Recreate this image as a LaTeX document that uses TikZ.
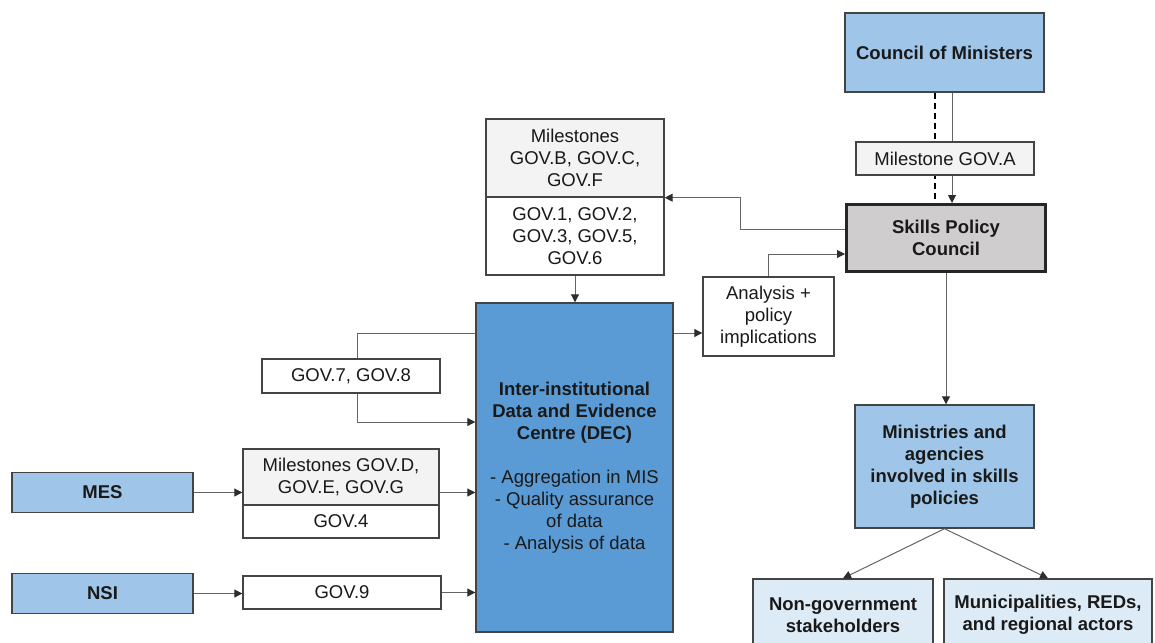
\documentclass[tikz,border=0pt]{standalone}
\usepackage{fontspec}
\setmainfont{Liberation Sans}
\usetikzlibrary{arrows.meta,backgrounds}

\definecolor{midblue}{RGB}{159,197,232}
\definecolor{decblue}{RGB}{91,155,213}
\definecolor{paleblue}{RGB}{221,235,247}
\definecolor{palegray}{RGB}{243,243,243}
\definecolor{spcgray}{RGB}{207,205,205}
\definecolor{edge}{RGB}{68,68,68}
\definecolor{wire}{RGB}{100,100,100}
\definecolor{tipcol}{RGB}{45,45,45}

\tikzset{
  box/.style={draw=edge, line width=1.4pt, rectangle, inner sep=2pt, align=center,
    text=black!90, font=\fontsize{18.5}{22}\selectfont},
  boldbox/.style={box, font=\fontsize{18.5}{22}\selectfont\bfseries},
  wireline/.style={draw=wire, line width=1pt},
  arr/.style={wireline, -{Triangle[length=8pt,width=8pt,color=tipcol]}},
  dashline/.style={draw=black, line width=2pt, dash pattern=on 6pt off 4pt}
}

\begin{document}
\begin{tikzpicture}[x=1pt,y=-1pt]
\useasboundingbox (0,0) rectangle (1155,642);
\clip (0,0) rectangle (1155,642);

% --- governing bodies (top right)
\node[boldbox, fill=midblue, minimum width=199pt, minimum height=79pt] (council) at (944.5,52.5) {Council of Ministers};
\node[box, fill=palegray, minimum width=178pt, minimum height=33pt] (msA) at (945,158.5) {Milestone GOV.A};
\node[boldbox, fill=spcgray, draw=black!85, line width=3pt, minimum width=199pt, minimum height=67pt] (spc) at (946,238) {Skills Policy\\Council};

% --- milestone block above the DEC
\node[box, fill=palegray, minimum width=178pt, minimum height=78pt] (msTop) at (575,158) {Milestones\\GOV.B, GOV.C,\\GOV.F};
\node[box, fill=white, minimum width=178pt, minimum height=78pt] (msBot) at (575,236) {GOV.1, GOV.2,\\GOV.3, GOV.5,\\GOV.6};

% --- data and evidence centre
\node[boldbox, fill=decblue, minimum width=197pt, minimum height=329pt] (dec) at (574.5,467.5)
  {Inter-institutional\\Data and Evidence\\Centre (DEC)\\[22pt]\mdseries - Aggregation in MIS\\\mdseries - Quality assurance\\\mdseries of data\\\mdseries - Analysis of data};

\node[box, fill=white, minimum width=131pt, minimum height=79pt] (analysis) at (768.5,316.5) {Analysis +\\policy\\implications};

% --- inputs on the left
\node[box, fill=white, minimum width=178pt, minimum height=34pt] (gov78) at (351,376) {GOV.7, GOV.8};
\node[boldbox, fill=midblue, minimum width=181pt, minimum height=40pt] (mes) at (102.5,492.5) {MES};
\node[box, fill=palegray, minimum width=196pt, minimum height=56pt] (msDTop) at (341,477) {Milestones GOV.D,\\GOV.E, GOV.G};
\node[box, fill=white, minimum width=196pt, minimum height=33pt] (msDBot) at (341,521.5) {GOV.4};
\node[boldbox, fill=midblue, minimum width=181pt, minimum height=40pt] (nsi) at (102.5,593.5) {NSI};
\node[box, fill=white, minimum width=198pt, minimum height=33pt] (gov9) at (342,592.5) {GOV.9};

% --- implementing actors (bottom right)
\node[boldbox, fill=midblue, minimum width=179pt, minimum height=123pt] (ministries) at (944.5,466.5) {Ministries and\\agencies\\involved in skills\\policies};
\node[boldbox, fill=paleblue, minimum width=180pt, minimum height=72pt] (nongov) at (843,615) {Non-government\\stakeholders};
\node[boldbox, fill=paleblue, minimum width=208pt, minimum height=72pt] (munic) at (1048,615) {Municipalities, REDs,\\and regional actors};

% --- helper coordinates for routed connectors
\coordinate (xDash) at (935,0);
\coordinate (xSolid) at (952,0);
\coordinate (kink) at (740,229);
\coordinate (yMid) at (0,333);
\coordinate (yAn) at (0,254);
\coordinate (xLoop) at (357,0);
\coordinate (yIn) at (0,422);

% --- connectors
\begin{pgfonlayer}{background}
  \draw[dashline] (council.south -| xDash) -- (spc.north -| xDash);
\end{pgfonlayer}
\draw[wireline] (council.south -| xSolid) -- (msA.north -| xSolid);
\draw[arr] (msA.south -| xSolid) -- (spc.north -| xSolid);

\draw[arr] (spc.west |- kink) -- (kink) |- (msTop.south east);
\draw[arr] (msBot.south) -- (msBot.south |- dec.north);
\draw[arr] (dec.east |- yMid) -- (analysis.west |- yMid);
\draw[arr] (analysis.north) |- (spc.west |- yAn);

\draw[wireline] (dec.west |- yMid) -| (gov78.north -| xLoop);
\draw[arr] (gov78.south -| xLoop) |- (dec.west |- yIn);

\draw[arr] (mes.east) -- (msDTop.west |- mes.east);
\draw[arr] (msDTop.east |- mes.east) -- (dec.west |- mes.east);
\draw[arr] (nsi.east) -- (gov9.west |- nsi.east);
\draw[arr] (gov9.east) -- (dec.west |- gov9.east);

\draw[arr] (spc.south) -- (spc.south |- ministries.north);
\draw[arr] (ministries.south) -- (nongov.north);
\draw[arr] (ministries.south) -- (munic.north);
\end{tikzpicture}
\end{document}
